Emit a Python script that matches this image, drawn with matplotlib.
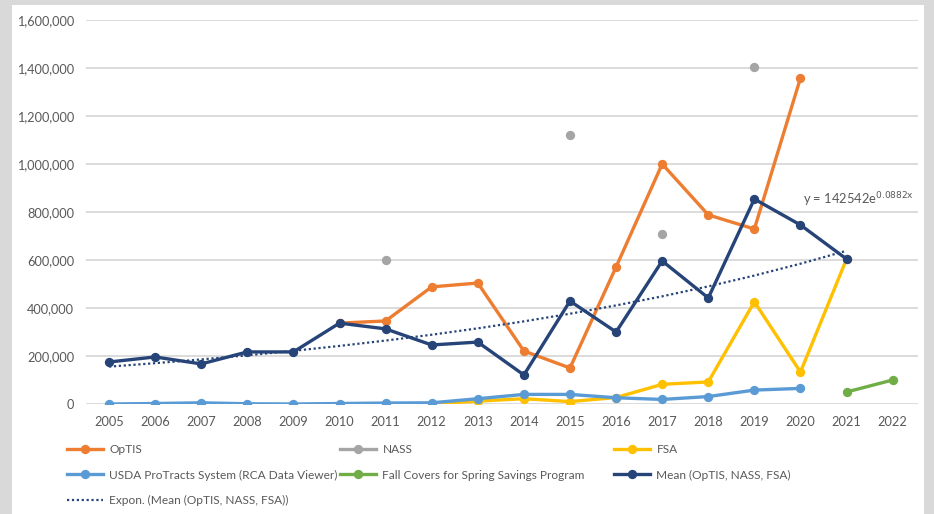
import numpy as np
import matplotlib
matplotlib.use('Agg')
from matplotlib import pyplot as plt
from matplotlib.patches import Rectangle
from matplotlib.lines import Line2D

years = list(range(2005, 2023))

optis_years = [2010, 2011, 2012, 2013, 2014, 2015, 2016, 2017, 2018, 2019, 2020]
optis = [337000, 346000, 488000, 504000, 221000, 150000, 571000, 1000000, 788000, 729000, 1358000]

nass_years = [2011, 2015, 2017, 2019]
nass = [600000, 1121000, 708000, 1404000]

fsa_years = [2011, 2012, 2013, 2014, 2015, 2016, 2017, 2018, 2019, 2020, 2021]
fsa = [0, 0, 12000, 22000, 10000, 27000, 82000, 92000, 426000, 133000, 604000]

usda_years = list(range(2005, 2021))
usda = [0, 2000, 5000, 1000, 0, 2000, 4000, 5000, 22000, 40000, 40000, 26000, 19000, 31000, 58000, 65000]

fall_years = [2021, 2022]
fall = [50000, 100000]

mean_years = list(range(2005, 2022))
mean = [175000, 196000, 167000, 217000, 217000, 337000, 313000, 246000, 258000,
        121000, 429000, 300000, 596000, 442000, 854000, 746000, 604000]

# excel trendline coefficients as shown on the chart
trend_a = 142542
trend_b = 0.0882

txt = '#595959'
grid = '#d9d9d9'
plt.rcParams['font.family'] = ['Lato', 'DejaVu Sans']
fs = 8.6

fig = plt.figure(figsize=(9.34, 5.14), dpi=100)
fig.patch.set_facecolor(grid)
fig.patches.append(Rectangle((12/934, 0), (924-12)/934, (514-4.5)/514,
                             transform=fig.transFigure, facecolor='white', edgecolor='none', zorder=-5))

ax = fig.add_axes([86/934, (514-404)/514, (918-86)/934, (404-20)/514])
ax.set_facecolor('none')
ax.set_zorder(2)

lw = 2.4
ms = 5.7
h_optis, = ax.plot(optis_years, optis, color='#ED7D31', lw=lw, marker='o', ms=ms, label='OpTIS')
ax.plot(nass_years, nass, color='#A5A5A5', lw=0, marker='o', ms=ms)
h_nass = Line2D([], [], color='#A5A5A5', lw=lw, marker='o', ms=ms, label='NASS')
h_fsa, = ax.plot(fsa_years, fsa, color='#FFC000', lw=lw, marker='o', ms=ms, label='FSA')
h_usda, = ax.plot(usda_years, usda, color='#5B9BD5', lw=lw, marker='o', ms=ms,
                  label='USDA ProTracts System (RCA Data Viewer)')
h_fall, = ax.plot(fall_years, fall, color='#70AD47', lw=lw, marker='o', ms=ms,
                  label='Fall Covers for Spring Savings Program')
h_mean, = ax.plot(mean_years, mean, color='#264478', lw=lw, marker='o', ms=ms,
                  label='Mean (OpTIS, NASS, FSA)')

tx = np.arange(1, len(mean_years) + 1)
h_trend, = ax.plot(mean_years, trend_a * np.exp(trend_b * tx), color='#264478', lw=1.6,
                   linestyle=(0, (1, 1.2)), label='Expon. (Mean (OpTIS, NASS, FSA))')

ax.text(2020.05, 850000, r'y = 142542e$^{\mathrm{0.0882x}}$', color=txt, fontsize=9.3,
        ha='left', va='center')

ax.set_xlim(2004.5, 2022.55)
ax.set_ylim(0, 1600000)
ax.set_xticks(years)
ax.set_xticklabels([str(y) for y in years])
ax.set_yticks(np.arange(0, 1600001, 200000))
ax.yaxis.set_major_formatter(matplotlib.ticker.FuncFormatter(lambda v, p: f'{int(v):,}'))
ax.grid(axis='y', color=grid, lw=1.3)
ax.set_axisbelow(True)
for s in ax.spines.values():
    s.set_visible(False)
ax.tick_params(length=0, colors=txt, labelsize=9.2)
ax.tick_params(axis='y', pad=8.6)
ax.tick_params(axis='x', pad=9)

# legend in three columns, laid out row by row like the original
cols = [([h_optis, h_usda, h_trend], 67), ([h_nass, h_fall], 340), ([h_fsa, h_mean], 614)]
for hs, x0 in cols:
    fig.legend(handles=hs, loc='upper left', bbox_to_anchor=(x0/934, 1 - 444/514),
               frameon=False, fontsize=fs, labelcolor=txt, handlelength=3.0,
               handletextpad=0.55, labelspacing=1.22, borderaxespad=0, borderpad=0)

fig.savefig('out.png', dpi=100)
